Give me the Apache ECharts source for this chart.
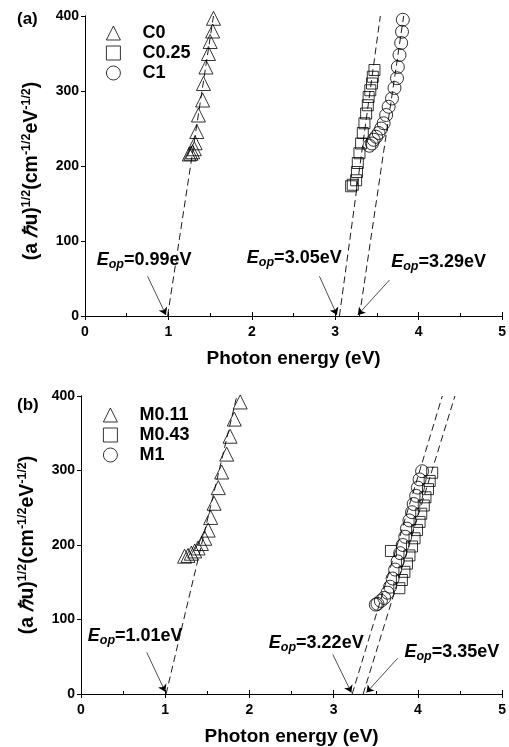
<!DOCTYPE html>
<html>
<head>
<meta charset="utf-8">
<script src="https://cdn.jsdelivr.net/npm/echarts@6/dist/echarts.min.js"></script>
<style>
  html, body { margin: 0; padding: 0; background: #fff; }
  #chart { width: 509px; height: 747px; }
</style>
</head>
<body>
<div id="chart"></div>
<script>
// panel (a) measured points [photon energy eV, (a hu)^1/2]
const c0 = [[1.25, 216], [1.27, 217], [1.29, 219], [1.31, 223], [1.32, 231], [1.34, 246], [1.36, 268], [1.41, 288], [1.42, 310], [1.45, 332], [1.48, 350], [1.50, 366], [1.53, 380], [1.54, 397]]
const c025 = [[3.19, 173], [3.21, 175], [3.25, 181], [3.26, 192], [3.27, 204], [3.29, 217], [3.31, 230], [3.33, 244], [3.35, 257], [3.37, 270], [3.39, 281], [3.40, 292], [3.42, 301], [3.44, 310], [3.45, 319], [3.47, 328]]
const c1 = [[3.41, 227], [3.44, 230], [3.46, 235], [3.49, 239], [3.52, 244], [3.55, 250], [3.58, 257], [3.61, 268], [3.64, 279], [3.68, 290], [3.71, 304], [3.74, 317], [3.75, 332], [3.77, 348], [3.79, 364], [3.80, 379], [3.81, 395]]

// panel (b)
const m011 = [[1.23, 185], [1.27, 186], [1.31, 189], [1.35, 192], [1.39, 196], [1.43, 202], [1.47, 209], [1.51, 220], [1.54, 237], [1.58, 256], [1.63, 277], [1.67, 298], [1.73, 322], [1.77, 346], [1.82, 369], [1.89, 392]]
const m043 = [[3.68, 192], [3.78, 142], [3.81, 153], [3.84, 164], [3.87, 175], [3.90, 186], [3.93, 198], [3.96, 209], [3.99, 220], [4.02, 231], [4.04, 242], [4.07, 253], [4.09, 264], [4.12, 275], [4.14, 286], [4.17, 297]]
const m1 = [[3.50, 120], [3.52, 121], [3.56, 125], [3.60, 129], [3.64, 136], [3.67, 144], [3.70, 155], [3.73, 167], [3.76, 178], [3.79, 189], [3.82, 200], [3.85, 211], [3.87, 222], [3.90, 233], [3.93, 244], [3.95, 255], [3.98, 266], [4.00, 277], [4.02, 288], [4.05, 299]]

// dashed extrapolation lines
const fitA = [[[0.99, 0], [1.54, 400]], [[3.05, 0], [3.54, 400]], [[3.29, 0], [3.82, 400]]]
const fitB = [[[1.01, 0], [1.85, 400]], [[3.22, 0], [4.29, 400]], [[3.35, 0], [4.44, 400]]]

// annotation arrows and Eop labels
const arrowsA = [[[0.75, 53], [0.97, 1.5]], [[2.81, 53], [3.02, 1.5]], [[3.65, 48], [3.27, 1.5]]]
const arrowsB = [[[0.78, 56], [1.00, 3]], [[2.99, 53], [3.21, 2]], [[3.76, 48], [3.39, 2]]]
const eopA = [[0.14, 75, '0.99'], [1.94, 77, '3.05'], [3.67, 72, '3.29']]
const eopB = [[0.08, 78, '1.01'], [2.23, 68, '3.22'], [3.84, 56, '3.35']]

const namesA = ['C0', 'C0.25', 'C1']
const namesB = ['M0.11', 'M0.43', 'M1']

const FONT = 'Liberation Sans, Arial, sans-serif'
const markerStyle = { color: 'transparent', borderColor: '#000', borderWidth: 0.8, opacity: 1 }

const yName = '{b|(a }{i|ℏ}{b|u)}{s|1/2}{b|(cm}{s|-1/2}{b|eV}{s|-1/2}{b|)}'
const yNameRich = {
  b: { fontSize: 19.5, fontWeight: 'bold', fontFamily: FONT, color: '#000' },
  i: { fontSize: 19.5, fontWeight: 'bold', fontStyle: 'italic', fontFamily: FONT, color: '#000' },
  s: { fontSize: 12.5, fontWeight: 'bold', fontFamily: FONT, color: '#000', padding: [0, 0, 10, 0] }
}

const makeX = (grid) => ([
  {
    type: 'value', gridIndex: grid, min: 0, max: 5, interval: 1,
    name: 'Photon energy (eV)', nameLocation: 'middle', nameGap: 33,
    nameTextStyle: { fontSize: 19, fontWeight: 'bold', fontFamily: FONT, color: '#000' },
    axisLine: { lineStyle: { color: '#000', width: 1 } },
    axisTick: { inside: true, length: 4, lineStyle: { color: '#000' } },
    minorTick: { show: true, splitNumber: 2, length: 3, lineStyle: { color: '#000' } },
    axisLabel: { fontSize: 14, fontWeight: 'bold', fontFamily: FONT, color: '#000', margin: 9 },
    splitLine: { show: false }
  },
  {
    type: 'value', gridIndex: grid, position: 'top', min: 0, max: 5, interval: 1,
    axisLine: { lineStyle: { color: '#000', width: 1 } },
    axisTick: { inside: true, length: 4, lineStyle: { color: '#000' } },
    axisLabel: { show: false },
    splitLine: { show: false }
  }
])

const makeY = (grid, pad) => ([
  {
    type: 'value', gridIndex: grid, min: 0, max: 400, interval: 100,
    name: yName, nameLocation: 'middle', nameGap: 42, nameRotate: 90,
    nameTextStyle: { rich: yNameRich, padding: [0, pad, 0, 0] },
    axisLine: { lineStyle: { color: '#000', width: 1 } },
    axisTick: { inside: false, length: 4, lineStyle: { color: '#000' } },
    axisLabel: { fontSize: 14, fontWeight: 'bold', fontFamily: FONT, color: '#000', margin: 6 },
    splitLine: { show: false }
  },
  {
    type: 'value', gridIndex: grid, position: 'right', min: 0, max: 400, interval: 100,
    axisLine: { lineStyle: { color: '#000', width: 1 } },
    axisTick: { inside: true, length: 4, lineStyle: { color: '#000' } },
    axisLabel: { show: false },
    splitLine: { show: false }
  }
])

const scatter = (name, data, symbol, size, xi, yi) => ({
  name, type: 'scatter', data, symbol, symbolSize: size,
  xAxisIndex: xi, yAxisIndex: yi, itemStyle: markerStyle, z: 3
})

const fitSeries = (fits, xi, yi) => fits.map((d) => ({
  type: 'line', data: d, xAxisIndex: xi, yAxisIndex: yi, symbol: 'none', silent: true,
  lineStyle: { color: '#000', width: 0.9, type: [7, 4] }, z: 4
}))

const arrowSeries = (arrows, xi, yi) => ({
  type: 'lines', coordinateSystem: 'cartesian2d', xAxisIndex: xi, yAxisIndex: yi,
  symbol: ['none', 'arrow'], symbolSize: 7,
  lineStyle: { color: '#000', width: 0.7, opacity: 1 },
  data: arrows.map((c) => ({ coords: c })), z: 4
})

const eopSeries = (labels, xi, yi) => ({
  type: 'scatter', data: labels, symbolSize: 0, xAxisIndex: xi, yAxisIndex: yi, silent: true,
  itemStyle: { opacity: 1 },
  label: {
    show: true, position: 'right', distance: 0,
    formatter: (p) => '{e|E}{o|op}{v|=' + p.value[2] + 'eV}',
    rich: {
      e: { fontSize: 18, fontWeight: 'bold', fontStyle: 'italic', fontFamily: FONT, color: '#000' },
      o: { fontSize: 12.5, fontWeight: 'bold', fontStyle: 'italic', fontFamily: FONT, color: '#000', padding: [9, 0, 0, 0] },
      v: { fontSize: 18, fontWeight: 'bold', fontFamily: FONT, color: '#000' }
    }
  }
})

const legendCfg = (names, left, top) => ({
  orient: 'vertical', left, top, itemWidth: 14, itemHeight: 14, itemGap: 2,
  selectedMode: false,
  data: names,
  itemStyle: { color: 'transparent', borderColor: '#000', borderWidth: 0.8 },
  textStyle: { fontSize: 18, lineHeight: 18, fontWeight: 'bold', fontFamily: FONT, color: '#000', padding: [0, 0, 0, 17] }
})

const getOption = () => ({
  backgroundColor: '#fff',
  animation: false,
  title: [
    { text: '(a)', left: 12, top: 6, textStyle: { fontSize: 17, fontWeight: 'bold', fontFamily: FONT, color: '#000' } },
    { text: '(b)', left: 12, top: 392, textStyle: { fontSize: 17, fontWeight: 'bold', fontFamily: FONT, color: '#000' } }
  ],
  legend: [legendCfg(namesA, 101, 19), legendCfg(namesB, 98, 401)],
  grid: [
    { left: 85, top: 16, width: 422, height: 300 },
    { left: 81, top: 396, width: 422, height: 301 }
  ],
  xAxis: [...makeX(0), ...makeX(1)],
  yAxis: [...makeY(0, 10), ...makeY(1, 0)],
  series: [
    scatter(namesA[0], c0, 'triangle', 14, 0, 0),
    scatter(namesA[1], c025, 'rect', 11, 0, 0),
    scatter(namesA[2], c1, 'circle', 13, 0, 0),
    ...fitSeries(fitA, 0, 0),
    arrowSeries(arrowsA, 0, 0),
    eopSeries(eopA, 0, 0),
    scatter(namesB[0], m011, 'triangle', 14, 2, 2),
    scatter(namesB[1], m043, 'rect', 11, 2, 2),
    scatter(namesB[2], m1, 'circle', 13, 2, 2),
    ...fitSeries(fitB, 2, 2),
    arrowSeries(arrowsB, 2, 2),
    eopSeries(eopB, 2, 2)
  ]
})

const chartInstance = echarts.init(document.getElementById('chart'))
chartInstance.setOption(getOption())
</script>
</body>
</html>
